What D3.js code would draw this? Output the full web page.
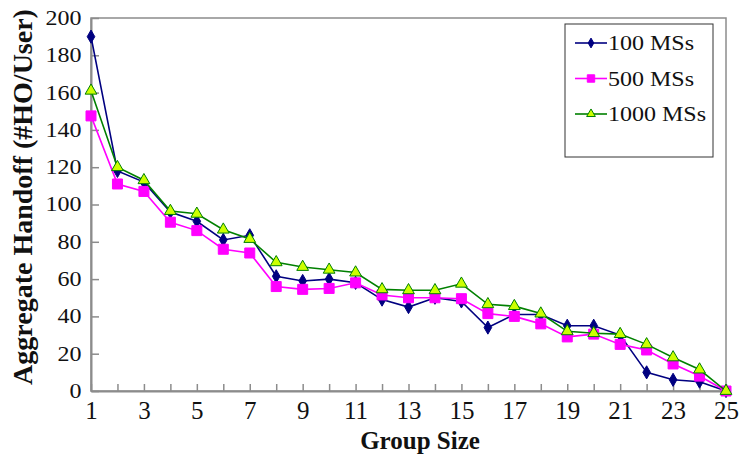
<!DOCTYPE html>
<html>
<head>
<meta charset="utf-8">
<script src="https://cdn.jsdelivr.net/npm/d3@7"></script>
<style>
  body { margin: 0; background: #fff; }
  text { font-family: "Liberation Serif", "Times New Roman", serif; }
</style>
</head>
<body>
<script>
// group sizes on the x axis
var groupSize = d3.range(1, 26);
var xTickLabels = [1, 3, 5, 7, 9, 11, 13, 15, 17, 19, 21, 23, 25];
var yTicks = [0, 20, 40, 60, 80, 100, 120, 140, 160, 180, 200];

// aggregate handoff values
var ms100  = [190, 118, 112, 96, 91, 81, 83.5, 61.5, 59, 60, 58, 49, 45, 50, 48, 34, 41, 41, 35, 35, 30, 10, 6, 5, 0];
var ms500  = [147.5, 111, 107, 90.5, 86, 76, 74, 56, 54.5, 55, 58, 51.5, 50, 50, 49.5, 41.5, 40, 36, 29, 30.5, 25, 22, 14.5, 8, 0];
var ms1000 = [161, 120, 113, 96.5, 95, 86.5, 81.5, 69, 66.5, 65, 63.5, 54.5, 54, 54, 57.5, 46.5, 45.5, 41.5, 32, 31, 30.5, 25, 18, 11.5, 0];

var series = [
  { name: "100 MSs",  values: ms100,  line: "#000080", fill: "#000080", stroke: "#000080", sym: d3.symbolDiamond,  size: 50 },
  { name: "500 MSs",  values: ms500,  line: "#ff00ff", fill: "#ff00ff", stroke: "#ff00ff", sym: d3.symbolSquare,   size: 100 },
  { name: "1000 MSs", values: ms1000, line: "#008000", fill: "#ccff00", stroke: "#008000", sym: d3.symbolTriangle, size: 60 }
];

var W = 739, H = 458;
var plotL = 91, plotR = 726, plotT = 18, plotB = 391;

var svg = d3.select("body").append("svg")
    .attr("width", W)
    .attr("height", H);

svg.append("rect").attr("width", W).attr("height", H).attr("fill", "#fff");

var x = d3.scaleLinear().domain([1, 25]).range([plotL, plotR]);
var y = d3.scaleLinear().domain([0, 200]).range([plotB, plotT]);

// frame
svg.append("rect")
    .attr("x", plotL).attr("y", plotT)
    .attr("width", plotR - plotL).attr("height", plotB - plotT)
    .attr("fill", "none")
    .attr("stroke", "#8c8c8c")
    .attr("stroke-width", 1.5);

var yAxis = svg.append("g")
    .attr("transform", "translate(" + plotL + ",0)")
    .call(d3.axisLeft(y).tickValues(yTicks).tickSizeInner(-8).tickSizeOuter(0).tickPadding(8));

var xAxis = svg.append("g")
    .attr("transform", "translate(0," + plotB + ")")
    .call(d3.axisBottom(x).tickValues(groupSize).tickSizeInner(-7).tickSizeOuter(0).tickPadding(10)
      .tickFormat(function(d) { return xTickLabels.indexOf(d) >= 0 ? d : ""; }));

[yAxis, xAxis].forEach(function(ax) {
  ax.select(".domain").attr("stroke", "#8c8c8c").attr("stroke-width", 2);
  ax.selectAll(".tick line").attr("stroke", "#8c8c8c").attr("stroke-width", 1.5);
  ax.selectAll(".tick text")
      .attr("fill", "#111")
      .style("font-family", "'Liberation Serif', serif");
});

// y labels are wide and short in the picture
yAxis.selectAll(".tick text")
    .style("font-size", "20px")
    .attr("transform", "scale(1.2,1)");
xAxis.selectAll(".tick text")
    .style("font-size", "25px");

// axis titles
svg.append("text")
    .attr("transform", "translate(32,197) rotate(-90)")
    .attr("text-anchor", "middle")
    .style("font-weight", "bold")
    .style("font-size", "28px")
    .attr("fill", "#111")
    .text("Aggregate Handoff (#HO/User)");

svg.append("text")
    .attr("x", 420).attr("y", 449)
    .attr("text-anchor", "middle")
    .style("font-weight", "bold")
    .style("font-size", "25px")
    .attr("fill", "#111")
    .text("Group Size");

// lines and markers
var line = d3.line()
    .x(function(d, i) { return x(groupSize[i]); })
    .y(function(d) { return y(d); });

series.forEach(function(s) {
  svg.append("path")
      .datum(s.values)
      .attr("d", line)
      .attr("fill", "none")
      .attr("stroke", s.line)
      .attr("stroke-width", 1.6);

  svg.append("g").selectAll("path")
      .data(s.values)
      .enter().append("path")
      .attr("transform", function(d, i) { return "translate(" + x(groupSize[i]) + "," + y(d) + ")"; })
      .attr("d", d3.symbol().type(s.sym).size(s.size))
      .attr("fill", s.fill)
      .attr("stroke", s.stroke)
      .attr("stroke-width", 1);
});

// legend
var legend = svg.append("g");
legend.append("rect")
    .attr("x", 565).attr("y", 24)
    .attr("width", 148).attr("height", 133)
    .attr("fill", "#fff")
    .attr("stroke", "#333")
    .attr("stroke-width", 1);

var rows = legend.selectAll("g.row")
    .data(series)
    .enter().append("g")
    .attr("class", "row")
    .attr("transform", function(d, i) { return "translate(0," + (43 + i * 35.5) + ")"; });

rows.append("line")
    .attr("x1", 575).attr("x2", 607)
    .attr("stroke", function(d) { return d.line; })
    .attr("stroke-width", 1.6);

rows.append("path")
    .attr("transform", "translate(591,0)")
    .attr("d", function(d) { return d3.symbol().type(d.sym).size(d.size * 0.55)(); })
    .attr("fill", function(d) { return d.fill; })
    .attr("stroke", function(d) { return d.stroke; })
    .attr("stroke-width", 1);

rows.append("text")
    .attr("transform", "translate(608,7) scale(1.2,1)")
    .style("font-size", "20px")
    .attr("fill", "#111")
    .text(function(d) { return d.name; });
</script>
</body>
</html>
